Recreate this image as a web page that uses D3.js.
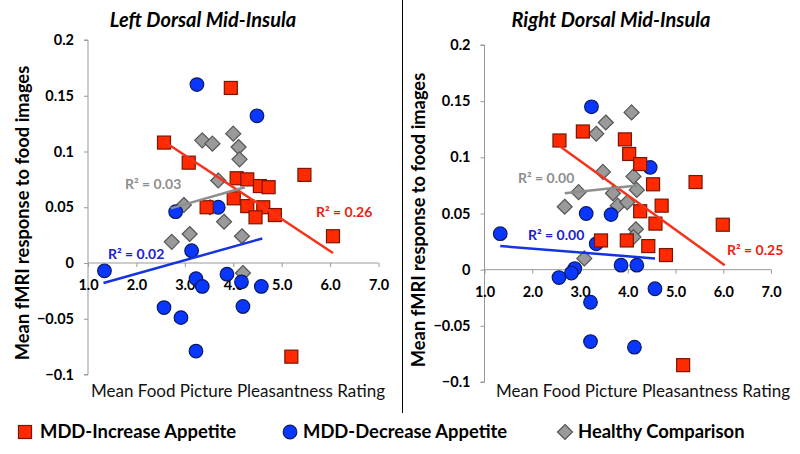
<!DOCTYPE html>
<html>
<head>
<meta charset="utf-8">
<script src="https://cdn.jsdelivr.net/npm/d3@7/dist/d3.min.js"></script>
<style>
  html, body { margin: 0; padding: 0; background: #fff; }
  svg { display: block; }
  text { font-family: Lato, "Liberation Sans", sans-serif; }
</style>
</head>
<body>
<svg id="chart" width="800" height="454"></svg>
<script>
// ---- Data ----
const xTicks = [1, 2, 3, 4, 5, 6, 7];
const yTicks = [-0.1, -0.05, 0, 0.05, 0.1, 0.15, 0.2];
const seriesNames = ["MDD-Increase Appetite", "MDD-Decrease Appetite", "Healthy Comparison"];

// Left Dorsal Mid-Insula
const leftIncrease = [[2.57,0.108],[3.95,0.157],[3.08,0.090],[4.07,0.076],[4.29,0.075],[4.55,0.069],[4.73,0.068],[4.01,0.058],[3.45,0.050],[4.29,0.051],[4.62,0.050],[4.46,0.041],[4.86,0.043],[5.47,0.079],[6.06,0.024],[5.20,-0.084]];
const leftDecrease = [[3.25,0.160],[4.49,0.132],[2.81,0.046],[3.69,0.050],[3.14,0.011],[1.34,-0.007],[3.23,-0.014],[3.36,-0.021],[3.87,-0.010],[4.17,-0.017],[4.58,-0.021],[2.57,-0.040],[2.92,-0.049],[4.20,-0.039],[3.23,-0.079]];
const leftHealthy = [[3.36,0.110],[3.57,0.107],[4.00,0.116],[4.11,0.104],[4.13,0.093],[3.69,0.074],[2.98,0.052],[3.52,0.050],[3.81,0.037],[3.10,0.026],[2.73,0.019],[4.18,0.024],[4.20,-0.009]];
const leftTrendIncrease = [[2.57,0.109],[6.06,0.009]];
const leftTrendDecrease = [[1.32,-0.018],[4.60,0.022]];
const leftTrendHealthy = [[2.71,0.049],[4.24,0.068]];
const leftR2 = ["R² = 0.26", "R² = 0.02", "R² = 0.03"];

// Right Dorsal Mid-Insula
const rightIncrease = [[2.57,0.115],[3.06,0.123],[3.94,0.116],[4.03,0.103],[4.26,0.094],[4.53,0.076],[5.42,0.078],[4.71,0.057],[4.26,0.052],[4.58,0.041],[3.44,0.026],[3.98,0.026],[4.43,0.021],[4.80,0.013],[5.99,0.040],[5.16,-0.085]];
const rightDecrease = [[3.24,0.145],[4.47,0.091],[3.13,0.050],[3.65,0.049],[1.33,0.032],[3.34,0.023],[3.86,0.004],[4.19,0.004],[2.89,0.001],[2.82,-0.003],[2.56,-0.007],[4.57,-0.017],[3.22,-0.029],[3.22,-0.064],[4.14,-0.069]];
const rightHealthy = [[4.08,0.140],[3.54,0.131],[3.34,0.121],[3.48,0.087],[4.12,0.083],[2.97,0.069],[3.69,0.068],[4.19,0.071],[2.68,0.056],[3.79,0.057],[3.99,0.060],[4.17,0.036],[4.12,0.029],[3.09,0.010]];
const rightTrendIncrease = [[2.57,0.110],[6.03,0.004]];
const rightTrendDecrease = [[1.33,0.021],[4.57,0.010]];
const rightTrendHealthy = [[2.68,0.068],[4.19,0.075]];
const rightR2 = ["R² = 0.25", "R² = 0.00", "R² = 0.00"];

// ---- Styles ----
const fills   = ["#ff2a00", "#0a37ff", "#9a9a9a"];
const strokes = ["#7a1500", "#0a1a60", "#555555"];
const lineCol = ["#f5331a", "#1534e0", "#8e8e8e"];
const r2Col   = ["#ee1d0f", "#2020d0", "#8e8e8e"];

const svg = d3.select("#chart");

const panels = [
  { title: "Left Dorsal Mid-Insula", titleX: 203, x0: 88, x1: 378.5, yTop: 40, yBot: 374.5,
    series: [leftIncrease, leftDecrease, leftHealthy],
    trends: [leftTrendIncrease, leftTrendDecrease, leftTrendHealthy],
    r2: leftR2, r2Pos: [[316, 217], [108, 259], [125, 189]],
    yTitleX: 23, yTitleY: 213, xTitleX: 238, xTitleY: 397 },
  { title: "Right Dorsal Mid-Insula", titleX: 611, x0: 484.5, x1: 771, yTop: 45, yBot: 382,
    series: [rightIncrease, rightDecrease, rightHealthy],
    trends: [rightTrendIncrease, rightTrendDecrease, rightTrendHealthy],
    r2: rightR2, r2Pos: [[727, 255], [528, 240], [518, 183]],
    yTitleX: 419, yTitleY: 220, xTitleX: 643, xTitleY: 397 }
];

function drawMarker(g, type, cx, cy) {
  if (type === 0) {
    g.append("rect").attr("x", cx - 6.5).attr("y", cy - 6.5).attr("width", 13).attr("height", 13)
      .attr("fill", fills[0]).attr("stroke", strokes[0]).attr("stroke-width", 1.2);
  } else if (type === 1) {
    g.append("circle").attr("cx", cx).attr("cy", cy).attr("r", 6.8)
      .attr("fill", fills[1]).attr("stroke", strokes[1]).attr("stroke-width", 1.2);
  } else {
    const s = 7.5;
    g.append("path").attr("d", `M${cx},${cy - s}L${cx + s},${cy}L${cx},${cy + s}L${cx - s},${cy}Z`)
      .attr("fill", fills[2]).attr("stroke", strokes[2]).attr("stroke-width", 1.2);
  }
}

panels.forEach(p => {
  const x = d3.scaleLinear().domain([1, 7]).range([p.x0, p.x1]);
  const y = d3.scaleLinear().domain([-0.1, 0.2]).range([p.yBot, p.yTop]);
  const g = svg.append("g");

  // Title
  g.append("text").attr("x", p.titleX).attr("y", 27).attr("text-anchor", "middle")
    .attr("font-size", 20).attr("font-weight", "bold").attr("font-style", "italic")
    .attr("fill", "#000").text(p.title);

  // Y axis
  const yAxis = d3.axisLeft(y).tickValues(yTicks).tickSize(4).tickPadding(10)
    .tickFormat(d => d === 0 ? "0" : d3.format("")(+d.toFixed(2)));
  const ya = g.append("g").attr("transform", `translate(${p.x0},0)`).call(yAxis);
  ya.select(".domain").attr("stroke", "#999").attr("d", `M-4,${p.yTop}H0V${p.yBot}H-4`);
  ya.selectAll(".tick line").attr("stroke", "#999");
  ya.selectAll(".tick text").attr("font-size", 14.5).attr("font-weight", "bold")
    .attr("fill", "#000").attr("font-family", "Lato, sans-serif");

  // X axis at y = 0
  const xAxis = d3.axisBottom(x).tickValues(xTicks).tickSize(4).tickPadding(13)
    .tickFormat(d3.format(".1f"));
  const xa = g.append("g").attr("transform", `translate(0,${y(0)})`).call(xAxis);
  xa.select(".domain").attr("stroke", "#999").attr("d", `M${p.x0},0H${p.x1}`);
  xa.selectAll(".tick line").attr("stroke", "#999");
  xa.selectAll(".tick text").attr("font-size", 14.5).attr("font-weight", "bold")
    .attr("fill", "#000").attr("font-family", "Lato, sans-serif");

  // Axis titles
  g.append("text").attr("transform", `translate(${p.yTitleX},${p.yTitleY}) rotate(-90)`)
    .attr("text-anchor", "middle").attr("dy", "0.35em")
    .attr("font-size", 18.3).attr("font-weight", "bold").attr("fill", "#000")
    .text("Mean fMRI response to food images");
  g.append("text").attr("x", p.xTitleX).attr("y", p.xTitleY).attr("text-anchor", "middle")
    .attr("font-size", 17).attr("fill", "#111")
    .text("Mean Food Picture Pleasantness Rating");

  // Markers
  [2, 1, 0].forEach(si => {
    p.series[si].forEach(d => drawMarker(g, si, x(d[0]), y(d[1])));
  });

  // Trend lines
  const line = d3.line().x(d => x(d[0])).y(d => y(d[1]));
  p.trends.forEach((t, i) => {
    g.append("path").attr("d", line(t)).attr("fill", "none")
      .attr("stroke", lineCol[i]).attr("stroke-width", 2.5);
  });

  // R² labels
  p.r2.forEach((t, i) => {
    g.append("text").attr("x", p.r2Pos[i][0]).attr("y", p.r2Pos[i][1])
      .attr("font-size", 14).attr("font-weight", "bold").attr("fill", r2Col[i]).text(t);
  });
});

// Divider
svg.append("line").attr("x1", 402.5).attr("x2", 402.5).attr("y1", 0).attr("y2", 413)
  .attr("stroke", "#000").attr("stroke-width", 1);

// Legend
const legend = svg.append("g");
const legendItems = [
  { type: 0, mx: 25, tx: 40 },
  { type: 1, mx: 290, tx: 303 },
  { type: 2, mx: 565, tx: 578 }
];
legendItems.forEach((it, i) => {
  drawMarker(legend, it.type, it.mx, 432);
  legend.append("text").attr("x", it.tx).attr("y", 438)
    .attr("font-size", 18.4).attr("font-weight", "bold").attr("fill", "#000")
    .text(seriesNames[i]);
});
</script>
</body>
</html>
